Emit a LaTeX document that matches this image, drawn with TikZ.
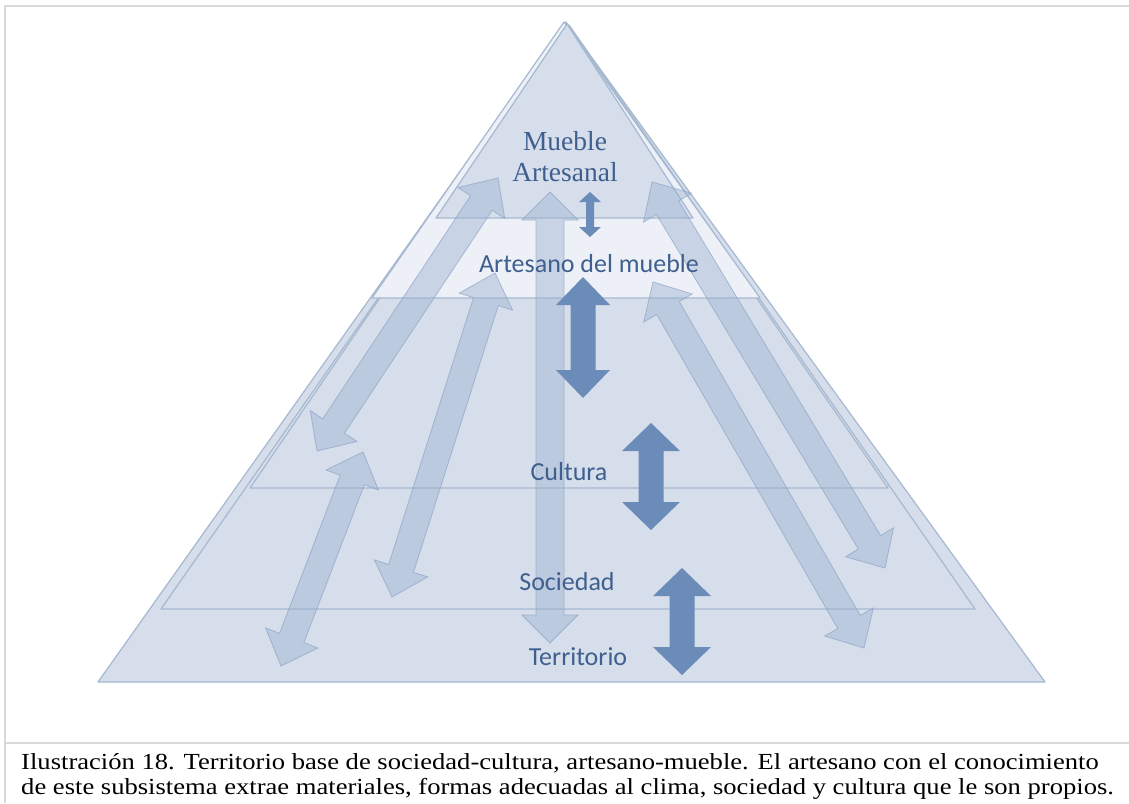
\documentclass[tikz,border=0pt]{standalone}
\usepackage{fontspec}
\setmainfont{Liberation Serif}
\newfontfamily\timesfont{Liberation Serif}
\newfontfamily\calibri{Carlito}
\usetikzlibrary{calc}

\definecolor{layerfill}{HTML}{D5DEEA}
\definecolor{layerline}{HTML}{A6B9D1}
\definecolor{paleface}{HTML}{EDF1F7}
\definecolor{lightarrow}{HTML}{9CB2D0}
\definecolor{lightedge}{HTML}{8EA5C6}
\definecolor{darkarrow}{HTML}{6B8CB9}
\definecolor{labelblue}{HTML}{3F5F8F}
\definecolor{framegray}{HTML}{D9D9D9}

% double block arrow: style, from, to, head length, half head width, half shaft width
\newcommand{\twoway}[6]{%
  \filldraw[#1] (#2)
    -- ($(#2)!#4!(#3)!#5!90:(#3)$)
    -- ($(#2)!#4!(#3)!#6!90:(#3)$)
    -- ($(#3)!#4!(#2)!#6!-90:(#2)$)
    -- ($(#3)!#4!(#2)!#5!-90:(#2)$)
    -- (#3)
    -- ($(#3)!#4!(#2)!#5!90:(#2)$)
    -- ($(#3)!#4!(#2)!#6!90:(#2)$)
    -- ($(#2)!#4!(#3)!#6!-90:(#3)$)
    -- ($(#2)!#4!(#3)!#5!-90:(#3)$)
    -- cycle;}

\begin{document}
\begin{tikzpicture}[x=1pt, y=-1pt,
  layer/.style={fill=layerfill, draw=layerline, line width=1.2pt, line join=round},
  pale/.style={layer, fill=paleface},
  soft/.style={fill=lightarrow, fill opacity=0.45, draw=lightedge, draw opacity=0.7, line width=0.8pt},
  solid/.style={fill=darkarrow, draw=none},
  level/.style={text=labelblue, font=\calibri\fontsize{26}{30}\selectfont},
  caption/.style={anchor=base west, inner sep=0, xscale=1.156, font=\timesfont\fontsize{23}{25}\selectfont},
  frame/.style={draw=framegray, line width=2pt}]
\useasboundingbox (0,0) rectangle (1129,803);
\fill[white] (0,0) rectangle (1129,803);

% frame and caption rule
\draw[frame] (5,803) -- (5,6) -- (1129,6);
\draw[frame] (5,743) -- (1129,743);

% pyramid layers, biggest first
\filldraw[layer] (98,682) -- (1045,682) -- (566,22) -- cycle;
\filldraw[layer] (161,609) -- (975,609) -- (569,25) -- cycle;
\filldraw[layer] (250,488) -- (888,488) -- (567,24) -- cycle;
\filldraw[pale] (372,298) -- (760,298) -- (564,22) -- cycle;
\filldraw[layer] (436,218) -- (693,218) -- (567,24) -- cycle;

% end points of the pale arrows
\coordinate (a1) at (317,451); \coordinate (a2) at (498,178);
\coordinate (b1) at (363,452); \coordinate (b2) at (281,666);
\coordinate (c1) at (495,273); \coordinate (c2) at (392,597);
\coordinate (d1) at (550,192); \coordinate (d2) at (550,643);
\coordinate (e1) at (652,182); \coordinate (e2) at (885,568);
\coordinate (f1) at (653,282); \coordinate (f2) at (864,648);
\twoway{soft}{a1}{a2}{30pt}{28pt}{13pt}
\twoway{soft}{b1}{b2}{30pt}{28pt}{13pt}
\twoway{soft}{c1}{c2}{30pt}{28pt}{13pt}
\twoway{soft}{d1}{d2}{28pt}{28pt}{14pt}
\twoway{soft}{e1}{e2}{30pt}{28pt}{13pt}
\twoway{soft}{f1}{f2}{30pt}{28pt}{13pt}

% dark arrows between the levels
\coordinate (s1) at (590,192); \coordinate (s2) at (590,237);
\coordinate (t1) at (583,277); \coordinate (t2) at (583,398);
\coordinate (u1) at (651,423); \coordinate (u2) at (651,530);
\coordinate (v1) at (682,568); \coordinate (v2) at (682,675);
\twoway{solid}{s1}{s2}{10pt}{11pt}{4pt}
\twoway{solid}{t1}{t2}{28pt}{27pt}{12.5pt}
\twoway{solid}{u1}{u2}{28pt}{29pt}{12.5pt}
\twoway{solid}{v1}{v2}{28pt}{29pt}{12.5pt}

% level names
\node[text=labelblue, font=\timesfont\fontsize{27.5}{31}\selectfont, align=center] (mueble) at (565,157) {Mueble\\Artesanal};
\node[level] (artesano) at (589,264) {Artesano del mueble};
\node[level] (cultura) at (569,472) {Cultura};
\node[level] (sociedad) at (567,582) {Sociedad};
\node[level] (territorio) at (578,657) {Territorio};

% caption
\node[caption] (cap1) at (21,769) {Ilustración 18. Territorio base de sociedad-cultura, artesano-mueble. El artesano con el conocimiento};
\node[caption] (cap2) at (21,794) {de este subsistema extrae materiales, formas adecuadas al clima, sociedad y cultura que le son propios.};
\end{tikzpicture}
\end{document}
